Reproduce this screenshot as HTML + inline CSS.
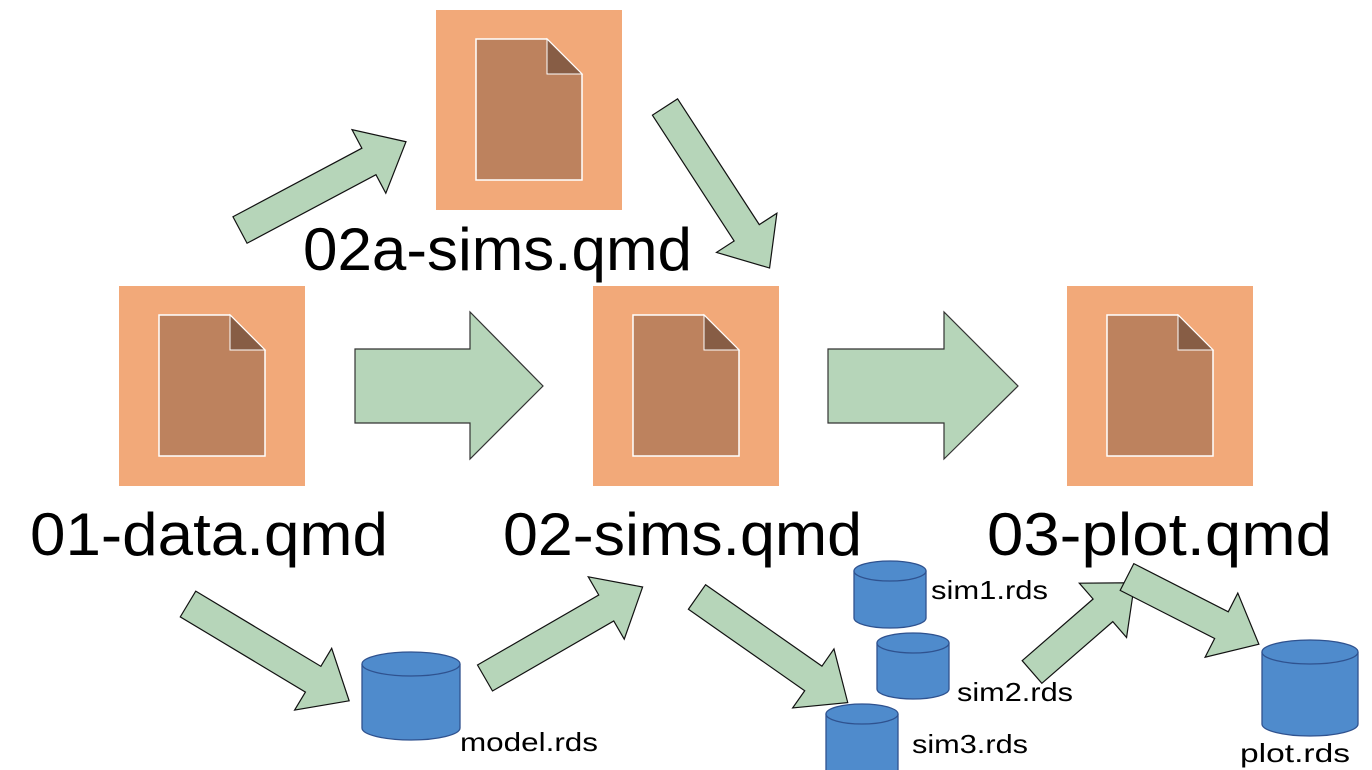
<!DOCTYPE html>
<html><head><meta charset="utf-8"><style>
html,body{margin:0;padding:0;background:#fff;}
svg{display:block;}
text{font-family:"Liberation Sans",sans-serif;fill:#000;}
</style></head><body>
<svg width="1372" height="770" viewBox="0 0 1372 770" xmlns="http://www.w3.org/2000/svg">
<defs>
<g id="doc">
<rect x="0" y="0" width="186" height="200" fill="#f2a979"/>
<polygon points="40,29 111,29 146,64 146,170 40,170" fill="#bd825e" stroke="#fff" stroke-width="1.5"/>
<polygon points="111,29 146,64 111,64" fill="#875d45" stroke="#fff" stroke-width="1"/>
</g>
<!-- diagonal arrow, length 100 units along x, scaled -->
<g id="cyl"></g>
</defs>

<use href="#doc" x="119" y="286"/>
<use href="#doc" x="436" y="10"/>
<use href="#doc" x="593" y="286"/>
<use href="#doc" x="1067" y="286"/>

<!-- big arrows -->
<polygon points="355,349 470,349 470,312 543,386 470,459 470,423 355,423" fill="#b6d5b9" stroke="#333" stroke-width="1.2"/>
<polygon points="828,349 944,349 944,312 1018,386 944,459 944,423 828,423" fill="#b6d5b9" stroke="#333" stroke-width="1.2"/>

<!-- diagonal arrows: drawn along +x from 0, length L, shaft half 15, head half 36, head len 42 -->
<g fill="#b6d5b9" stroke="#111" stroke-width="1.2">
<polygon transform="translate(240,230) rotate(-28)" points="0,-15 146,-15 146,-36 188,0 146,36 146,15 0,15"/>
<polygon transform="translate(665,107) rotate(57)" points="0,-15 150,-15 150,-36 192,0 150,36 150,15 0,15"/>
<polygon transform="translate(188,604) rotate(31)" points="0,-15 146,-15 146,-36 188,0 146,36 146,15 0,15"/>
<polygon transform="translate(485,678) rotate(-30)" points="0,-15 140,-15 140,-36 182,0 140,36 140,15 0,15"/>
<polygon transform="translate(697,597) rotate(35)" points="0,-15 142,-15 142,-36 184,0 142,36 142,15 0,15"/>
<polygon transform="translate(1032,672) rotate(-41)" points="0,-15 94,-15 94,-36 136,0 94,36 94,15 0,15"/>
<polygon transform="translate(1127,577) rotate(27)" points="0,-15 106,-15 106,-36 148,0 106,36 106,15 0,15"/>
</g>

<!-- cylinders -->
<g fill="#4f8bcc" stroke="#2f528f" stroke-width="1.3">
<path d="M362,664 L362,728 A49,12 0 0 0 460,728 L460,664"/><ellipse cx="411" cy="664" rx="49" ry="12"/>
<path d="M854,571 L854,618 A36,10 0 0 0 926,618 L926,571"/><ellipse cx="890" cy="571" rx="36" ry="10"/>
<path d="M877,643 L877,689 A36,10 0 0 0 949,689 L949,643"/><ellipse cx="913" cy="643" rx="36" ry="10"/>
<path d="M826,714 L826,772 A36,10 0 0 0 898,772 L898,714"/><ellipse cx="862" cy="714" rx="36" ry="10"/>
<path d="M1262,652 L1262,724 A48,12 0 0 0 1358,724 L1358,652"/><ellipse cx="1310" cy="652" rx="48" ry="12"/>
</g>

<!-- labels -->
<text x="303" y="270" font-size="60" textLength="389" lengthAdjust="spacingAndGlyphs">02a-sims.qmd</text>
<text x="30" y="555" font-size="60" textLength="358" lengthAdjust="spacingAndGlyphs">01-data.qmd</text>
<text x="503" y="555" font-size="60" textLength="359" lengthAdjust="spacingAndGlyphs">02-sims.qmd</text>
<text x="987" y="555" font-size="60" textLength="345" lengthAdjust="spacingAndGlyphs">03-plot.qmd</text>
<text x="460" y="751" font-size="26" textLength="138" lengthAdjust="spacingAndGlyphs">model.rds</text>
<text x="931" y="599" font-size="26" textLength="117" lengthAdjust="spacingAndGlyphs">sim1.rds</text>
<text x="957" y="701" font-size="26" textLength="116" lengthAdjust="spacingAndGlyphs">sim2.rds</text>
<text x="912" y="753" font-size="26" textLength="116" lengthAdjust="spacingAndGlyphs">sim3.rds</text>
<text x="1240" y="762" font-size="26" textLength="110" lengthAdjust="spacingAndGlyphs">plot.rds</text>
</svg>
</body></html>
